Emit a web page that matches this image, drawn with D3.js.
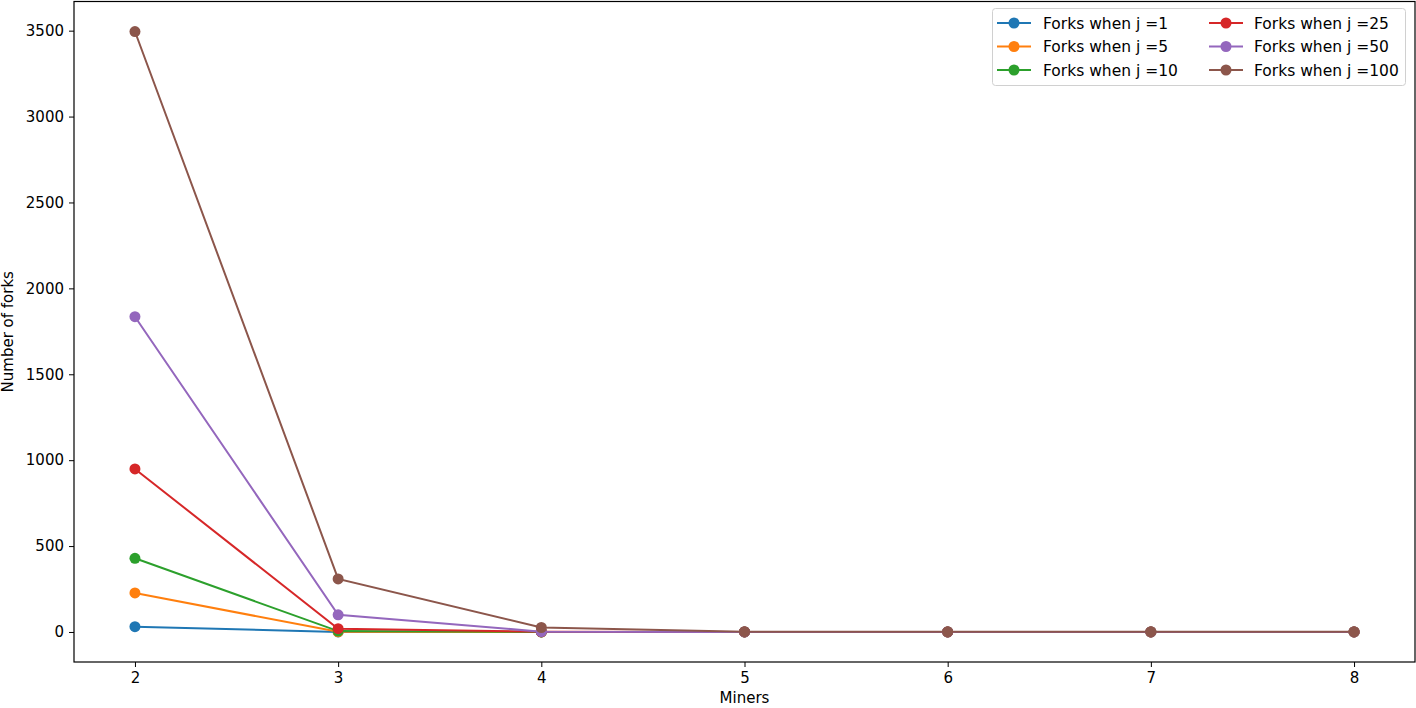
<!DOCTYPE html>
<html><head><meta charset="utf-8">
<script src="https://cdn.jsdelivr.net/npm/d3@7"></script>
<style>body{margin:0;background:#fff}svg{display:block}text{font-family:"DejaVu Sans",sans-serif}</style>
</head><body><svg id="c" width="1416" height="708"></svg>
<script>
const miners = [2,3,4,5,6,7,8];
const seriesNames = ["Forks when j =1","Forks when j =5","Forks when j =10","Forks when j =25","Forks when j =50","Forks when j =100"];
const j1   = [31, 0, 0, 0, 0, 0, 0];
const j5   = [227, 1, 0, 0, 0, 0, 0];
const j10  = [429, 5, 0, 0, 0, 0, 0];
const j25  = [949, 19, 1, 0, 0, 0, 0];
const j50  = [1835, 100, 2, 0, 0, 0, 0];
const j100 = [3495, 309, 26, 2, 1, 1, 1];
const xTicks = [2,3,4,5,6,7,8];
const yTicks = [0,500,1000,1500,2000,2500,3000,3500];
const colors = ["#1f77b4","#ff7f0e","#2ca02c","#d62728","#9467bd","#8c564b"];
const allSeries = [j1,j5,j10,j25,j50,j100];

const svg = d3.select("#c");
const L=74, R=1415, T=1.5, B=662;
const x = d3.scaleLinear().domain([1.7,8.3]).range([L,R]);
const ymax = 3495, ymin = 0, pad = (ymax-ymin)*0.05;
const y = d3.scaleLinear().domain([ymin-pad, ymax+pad]).range([B,T]);

const g = svg.append("g");
const line = d3.line().x((d,i)=>x(miners[i])).y(d=>y(d));
allSeries.forEach((s,k)=>{
  g.append("path").datum(s).attr("d",line).attr("fill","none")
   .attr("stroke",colors[k]).attr("stroke-width",2);
  g.selectAll(null).data(s).enter().append("circle")
   .attr("cx",(d,i)=>x(miners[i])).attr("cy",d=>y(d)).attr("r",5.5).attr("fill",colors[k]);
});

const xa = svg.append("g").attr("transform",`translate(0,${B})`)
  .call(d3.axisBottom(x).tickValues(xTicks).tickFormat(d3.format("d")).tickSize(5).tickPadding(5));
const ya = svg.append("g").attr("transform",`translate(${L},0)`)
  .call(d3.axisLeft(y).tickValues(yTicks).tickFormat(d3.format("d")).tickSize(5).tickPadding(5));
[xa,ya].forEach(a=>{a.select(".domain").remove();a.selectAll("text").attr("font-size",15).attr("fill","#000");a.selectAll("line").attr("stroke","#000").attr("stroke-width",1);});

svg.append("rect").attr("x",L).attr("y",T).attr("width",R-L).attr("height",B-T)
  .attr("fill","none").attr("stroke","#000").attr("stroke-width",1.2);

svg.append("text").attr("x",(L+R)/2).attr("y",703).attr("text-anchor","middle").attr("font-size",15).text("Miners");
svg.append("text").attr("transform",`translate(13,${(T+B)/2}) rotate(-90)`).attr("text-anchor","middle").attr("font-size",15).text("Number of forks");

// legend
const lg = svg.append("g");
lg.append("rect").attr("x",992.5).attr("y",8.5).attr("width",413).attr("height",77).attr("rx",3)
  .attr("fill","#fff").attr("fill-opacity",0.8).attr("stroke","#d0d0d0");
seriesNames.forEach((n,k)=>{
  const col = Math.floor(k/3), row = k%3;
  const x0 = col===0 ? 997 : 1209, yy = 23 + row*23.5;
  lg.append("line").attr("x1",x0).attr("x2",x0+34).attr("y1",yy).attr("y2",yy).attr("stroke",colors[k]).attr("stroke-width",2);
  lg.append("circle").attr("cx",x0+17).attr("cy",yy).attr("r",5.5).attr("fill",colors[k]);
  lg.append("text").attr("x",col===0?1043:1254).attr("y",yy+5.5).attr("font-size",15.5).text(n);
});
</script></body></html>
